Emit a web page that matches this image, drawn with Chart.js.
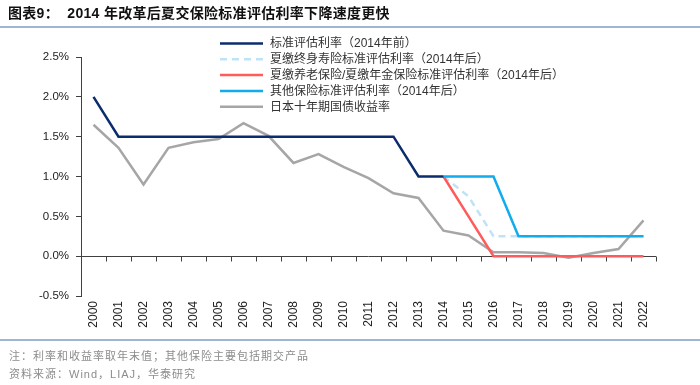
<!DOCTYPE html>
<html><head><meta charset="utf-8">
<script src="https://cdn.jsdelivr.net/npm/chart.js@4/dist/chart.umd.min.js"></script>
<style>
html,body{margin:0;padding:0;background:#fff;width:700px;height:385px;overflow:hidden;font-family:"Liberation Sans","Noto Sans CJK SC",sans-serif}
#wrap{position:absolute;left:0;top:0;width:700px;height:385px}
#title{position:absolute;left:8px;top:2px;font-size:14px;font-weight:bold;color:#111;white-space:nowrap;letter-spacing:0.3px}
#tl{position:absolute;left:0;top:26px;width:700px;height:2px;background:#9fb6d3}
#bl{position:absolute;left:0;top:339px;width:700px;height:2px;background:#9fb6d3}
.note{position:absolute;left:9px;font-size:11px;color:#8c8c8c;white-space:nowrap;letter-spacing:1px}
</style></head><body>
<div id="wrap"><canvas id="c" width="700" height="385"></canvas></div>
<div id="title">图表9：&nbsp;&nbsp;2014 年改革后夏交保险标准评估利率下降速度更快</div>
<div id="tl"></div>
<div id="bl"></div>
<div class="note" style="top:347px">注：利率和收益率取年末值；其他保险主要包括期交产品</div>
<div class="note" style="top:365px">资料来源：Wind，LIAJ，华泰研究</div>
<script>
const years = ["2000","2001","2002","2003","2004","2005","2006","2007","2008","2009","2010","2011","2012","2013","2014","2015","2016","2017","2018","2019","2020","2021","2022"];
const preReform = [2.0,1.5,1.5,1.5,1.5,1.5,1.5,1.5,1.5,1.5,1.5,1.5,1.5,1.0,1.0,null,null,null,null,null,null,null,null];
const wholeLife = [null,null,null,null,null,null,null,null,null,null,null,null,null,null,1.0,0.75,0.25,0.25,0.25,0.25,0.25,0.25,0.25];
const pension = [null,null,null,null,null,null,null,null,null,null,null,null,null,null,1.0,0.5,0,0,0,0,0,0,0];
const others = [null,null,null,null,null,null,null,null,null,null,null,null,null,null,1.0,1.0,1.0,0.25,0.25,0.25,0.25,0.25,0.25];
const jgb10y = [1.65,1.36,0.90,1.36,1.43,1.47,1.67,1.51,1.17,1.28,1.12,0.98,0.79,0.73,0.32,0.26,0.05,0.05,0.04,-0.02,0.04,0.09,0.45];
const seriesNames = ["标准评估利率（2014年前）","夏缴终身寿险标准评估利率（2014年后）","夏缴养老保险/夏缴年金保险标准评估利率（2014年后）","其他保险标准评估利率（2014年后）","日本十年期国债收益率"];
const yTicks = [-0.5,0,0.5,1.0,1.5,2.0,2.5];

const FONT = '"Liberation Sans","Noto Sans CJK SC",sans-serif';
const AX = '#404040';

const legendPlugin = {
  id:'customLegend',
  afterDraw(chart){
    const ctx = chart.ctx;
    ctx.save();
    [0,1,2,3,4].forEach((i,k)=>{
      const ds = chart.data.datasets.find(d=>d.legendIndex===i);
      const y = 43.5 + k*15.8;
      ctx.beginPath();
      ctx.strokeStyle = ds.borderColor;
      ctx.lineWidth = ds.borderWidth;
      ctx.setLineDash(ds.borderDash||[]);
      ctx.moveTo(220,y); ctx.lineTo(263,y);
      ctx.stroke();
      ctx.setLineDash([]);
      ctx.fillStyle = '#333';
      ctx.font = '12px ' + FONT;
      ctx.textBaseline = 'middle';
      ctx.fillText(ds.label, 270, y+0.5);
    });
    ctx.restore();
  }
};
const xTickPlugin = {
  id:'xTicks',
  beforeDatasetsDraw(chart){
    const x = chart.scales.x, y = chart.scales.y;
    const ctx = chart.ctx;
    const y0 = Math.round(y.getPixelForValue(0))+0.5;
    const half = (x.getPixelForValue(1)-x.getPixelForValue(0))/2;
    ctx.save();
    ctx.strokeStyle = AX; ctx.lineWidth = 1;
    ctx.beginPath();
    ctx.moveTo(x.left, y0); ctx.lineTo(x.right, y0);
    for(let i=0;i<=years.length;i++){
      const px = Math.round(x.getPixelForValue(0) - half + i*2*half)+0.5;
      ctx.moveTo(px,y0); ctx.lineTo(px,y0+5);
    }
    ctx.stroke();
    ctx.restore();
  }
};

new Chart(document.getElementById('c'),{
  type:'line',
  data:{labels:years,datasets:[
    {label:seriesNames[4],legendIndex:4,data:jgb10y,borderColor:'#a6a6a6',borderWidth:2.5,pointRadius:0,order:5},
    {label:seriesNames[1],legendIndex:1,data:wholeLife,borderColor:'#bfe3f6',borderWidth:2.5,borderDash:[7,5],pointRadius:0,order:4},
    {label:seriesNames[2],legendIndex:2,data:pension,borderColor:'#ff5b5b',borderWidth:2.5,pointRadius:0,order:3},
    {label:seriesNames[3],legendIndex:3,data:others,borderColor:'#10acec',borderWidth:2.5,pointRadius:0,order:2},
    {label:seriesNames[0],legendIndex:0,data:preReform,borderColor:'#0b2d6e',borderWidth:2.5,pointRadius:0,order:1}
  ]},
  options:{
    responsive:false,animation:false,
    layout:{padding:{left:0,right:44,top:57,bottom:49}},
    plugins:{legend:{display:false},tooltip:{enabled:false}},
    scales:{
      x:{offset:true,grid:{display:false,drawTicks:false},border:{display:false},
         ticks:{minRotation:90,maxRotation:90,padding:5,color:'#222',font:{family:FONT,size:12}},
         afterFit(s){s.height=40;}},
      y:{min:-0.5,max:2.5,
         afterBuildTicks(s){s.ticks=yTicks.map(v=>({value:v}));},
         grid:{color:'transparent',tickColor:AX,tickLength:5,drawOnChartArea:false},
         border:{color:AX,width:1},
         ticks:{color:'#222',font:{family:FONT,size:11.5},padding:7,callback:v=>v.toFixed(1)+'%'},
         afterFit(s){s.width=81;}}
    }
  },
  plugins:[legendPlugin,xTickPlugin]
});
</script>
</body></html>
